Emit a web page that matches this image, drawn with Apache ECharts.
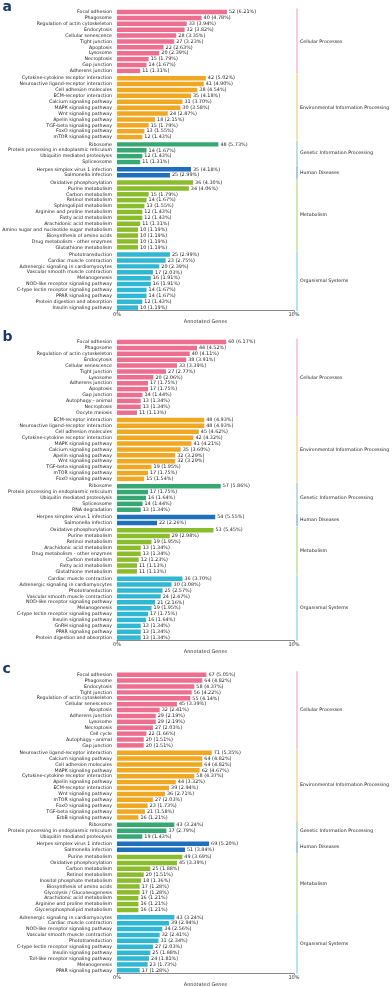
<!DOCTYPE html>
<html>
<head>
<meta charset="utf-8">
<script src="https://cdn.jsdelivr.net/npm/echarts@6/dist/echarts.min.js"></script>
<style>
html,body{margin:0;padding:0;background:#fff;}
#chart{width:392px;height:987px;}
</style>
</head>
<body>
<div id="chart"></div>
<script>
// ---------- DATA ----------
const groupNames = ["Cellular Processes","Environmental Information Processing","Genetic Information Processing","Human Diseases","Metabolism","Organismal Systems"];

const aGroupSizes = [11, 11, 4, 2, 12, 10];
const aPathways = [
  "Focal adhesion","Phagosome","Regulation of actin cytoskeleton","Endocytosis","Cellular senescence","Tight junction","Apoptosis","Lysosome","Necroptosis","Gap junction","Adherens junction",
  "Cytokine-cytokine receptor interaction","Neuroactive ligand-receptor interaction","Cell adhesion molecules","ECM-receptor interaction","Calcium signaling pathway","MAPK signaling pathway","Wnt signaling pathway","Apelin signaling pathway","TGF-beta signaling pathway","FoxO signaling pathway","mTOR signaling pathway",
  "Ribosome","Protein processing in endoplasmic reticulum","Ubiquitin mediated proteolysis","Spliceosome",
  "Herpes simplex virus 1 infection","Salmonella infection",
  "Oxidative phosphorylation","Purine metabolism","Carbon metabolism","Retinol metabolism","Sphingolipid metabolism","Arginine and proline metabolism","Fatty acid metabolism","Arachidonic acid metabolism","Amino sugar and nucleotide sugar metabolism","Biosynthesis of amino acids","Drug metabolism - other enzymes","Glutathione metabolism",
  "Phototransduction","Cardiac muscle contraction","Adrenergic signaling in cardiomyocytes","Vascular smooth muscle contraction","Melanogenesis","NOD-like receptor signaling pathway","C-type lectin receptor signaling pathway","PPAR signaling pathway","Protein digestion and absorption","Insulin signaling pathway"
];
const aGenes = [52,40,33,32,28,27,22,20,15,14,11, 42,41,38,35,31,30,24,18,15,13,12, 48,14,12,11, 35,25, 36,34,15,14,13,12,12,11,10,10,10,10, 25,23,20,17,16,16,14,14,12,10];
const aPercent = [6.21,4.78,3.94,3.82,3.35,3.23,2.63,2.39,1.79,1.67,1.31, 5.02,4.90,4.54,4.18,3.70,3.58,2.87,2.15,1.79,1.55,1.43, 5.73,1.67,1.43,1.31, 4.18,2.99, 4.30,4.06,1.79,1.67,1.55,1.43,1.43,1.31,1.19,1.19,1.19,1.19, 2.99,2.75,2.39,2.03,1.91,1.91,1.67,1.67,1.43,1.19];

const bGroupSizes = [13, 11, 5, 2, 8, 11];
const bPathways = [
  "Focal adhesion","Phagosome","Regulation of actin cytoskeleton","Endocytosis","Cellular senescence","Tight junction","Lysosome","Adherens junction","Apoptosis","Gap junction","Autophagy - animal","Necroptosis","Oocyte meiosis",
  "ECM-receptor interaction","Neuroactive ligand-receptor interaction","Cell adhesion molecules","Cytokine-cytokine receptor interaction","MAPK signaling pathway","Calcium signaling pathway","Apelin signaling pathway","Wnt signaling pathway","TGF-beta signaling pathway","mTOR signaling pathway","FoxO signaling pathway",
  "Ribosome","Protein processing in endoplasmic reticulum","Ubiquitin mediated proteolysis","Spliceosome","RNA degradation",
  "Herpes simplex virus 1 infection","Salmonella infection",
  "Oxidative phosphorylation","Purine metabolism","Retinol metabolism","Arachidonic acid metabolism","Drug metabolism - other enzymes","Carbon metabolism","Fatty acid metabolism","Glutathione metabolism",
  "Cardiac muscle contraction","Adrenergic signaling in cardiomyocytes","Phototransduction","Vascular smooth muscle contraction","NOD-like receptor signaling pathway","Melanogenesis","C-type lectin receptor signaling pathway","Insulin signaling pathway","GnRH signaling pathway","PPAR signaling pathway","Protein digestion and absorption"
];
const bGenes = [60,44,40,38,33,27,20,17,17,14,13,13,11, 48,48,45,42,41,35,32,32,19,17,15, 57,17,16,14,13, 54,22, 53,29,19,13,13,12,11,11, 36,30,25,24,21,19,17,16,13,13,13];
const bPercent = [6.17,4.52,4.11,3.91,3.39,2.77,2.06,1.75,1.75,1.44,1.34,1.34,1.13, 4.93,4.93,4.62,4.32,4.21,3.60,3.29,3.29,1.95,1.75,1.54, 5.86,1.75,1.64,1.44,1.34, 5.55,2.26, 5.45,2.98,1.95,1.34,1.34,1.23,1.13,1.13, 3.70,3.08,2.57,2.47,2.16,1.95,1.75,1.64,1.34,1.34,1.34];

const cGroupSizes = [13, 12, 3, 2, 10, 10];
const cPathways = [
  "Focal adhesion","Phagosome","Endocytosis","Tight junction","Regulation of actin cytoskeleton","Cellular senescence","Apoptosis","Adherens junction","Lysosome","Necroptosis","Cell cycle","Autophagy - animal","Gap junction",
  "Neuroactive ligand-receptor interaction","Calcium signaling pathway","Cell adhesion molecules","MAPK signaling pathway","Cytokine-cytokine receptor interaction","Apelin signaling pathway","ECM-receptor interaction","Wnt signaling pathway","mTOR signaling pathway","FoxO signaling pathway","TGF-beta signaling pathway","ErbB signaling pathway",
  "Ribosome","Protein processing in endoplasmic reticulum","Ubiquitin mediated proteolysis",
  "Herpes simplex virus 1 infection","Salmonella infection",
  "Purine metabolism","Oxidative phosphorylation","Carbon metabolism","Retinol metabolism","Inositol phosphate metabolism","Biosynthesis of amino acids","Glycolysis / Gluconeogenesis","Arachidonic acid metabolism","Arginine and proline metabolism","Glycerophospholipid metabolism",
  "Adrenergic signaling in cardiomyocytes","Cardiac muscle contraction","NOD-like receptor signaling pathway","Vascular smooth muscle contraction","Phototransduction","C-type lectin receptor signaling pathway","Insulin signaling pathway","Toll-like receptor signaling pathway","Melanogenesis","PPAR signaling pathway"
];
const cGenes = [67,64,58,56,55,45,32,29,29,27,22,20,20, 71,64,64,62,58,44,39,36,27,23,21,16, 43,37,19, 69,51, 49,45,25,20,18,17,17,16,16,16, 43,39,34,32,31,27,25,24,23,17];
const cPercent = [5.05,4.82,4.37,4.22,4.14,3.39,2.41,2.19,2.19,2.03,1.66,1.51,1.51, 5.35,4.82,4.82,4.67,4.37,3.32,2.94,2.71,2.03,1.73,1.58,1.21, 3.24,2.79,1.43, 5.20,3.84, 3.69,3.39,1.88,1.51,1.36,1.28,1.28,1.21,1.21,1.21, 3.24,2.94,2.56,2.41,2.34,2.03,1.88,1.81,1.73,1.28];

const panelLetters = ["a","b","c"];
const xTicks = [0, 10];

// ---------- STYLE / LAYOUT ----------
const groupColors = ["#EE6E8F","#F0A823","#35A874","#1F6FBF","#8BBC2B","#2FB7D4"];
const bracketColors = ["#F6BACA","#F7D58E","#A3D9BE","#8FB7DF","#C6DE95","#9ADBEA"];
const PITCH = 5.89, GAP = 1.4, LEFT = 117, RIGHT = 98;
const firstCenters = [12, 342, 674.7];
const letterY = [11.5, 341.8, 673.8];
const FONT = "DejaVu Sans";
const FS = 4.7;

const panels = [
  {sizes: aGroupSizes, names: aPathways, genes: aGenes, pct: aPercent},
  {sizes: bGroupSizes, names: bPathways, genes: bGenes, pct: bPercent},
  {sizes: cGroupSizes, names: cPathways, genes: cGenes, pct: cPercent}
];

const grid = [], xAxis = [], yAxis = [], series = [], graphic = [];

panels.forEach((p, pi) => {
  let rowStart = 0;
  p.sizes.forEach((n, gi) => {
    const idx = grid.length;
    const top = firstCenters[pi] - PITCH / 2 + rowStart * PITCH + gi * GAP;
    const names = p.names.slice(rowStart, rowStart + n);
    const genes = p.genes.slice(rowStart, rowStart + n);
    const pct = p.pct.slice(rowStart, rowStart + n);
    const isLast = gi === p.sizes.length - 1;
    grid.push({left: LEFT, right: RIGHT, top: top, height: n * PITCH, outerBoundsMode: 'none', containLabel: false});
    xAxis.push({
      type: 'value', gridIndex: idx, min: xTicks[0], max: xTicks[1], interval: xTicks[1] - xTicks[0],
      show: isLast,
      splitLine: {show: false},
      axisLine: {show: true, lineStyle: {color: '#8a8a8a', width: 1.2}},
      axisTick: {show: true, length: 2, lineStyle: {color: '#8a8a8a'}},
      axisLabel: {formatter: '{value}%', fontSize: 5, margin: 2, color: '#333', fontFamily: FONT},
      name: 'Annotated Genes', nameLocation: 'middle', nameGap: 8.5,
      nameTextStyle: {fontSize: 5, color: '#333', fontFamily: FONT}
    });
    yAxis.push({
      type: 'category', gridIndex: idx, data: names, inverse: true,
      axisLine: {show: false}, axisTick: {show: false}, splitLine: {show: false},
      axisLabel: {interval: 0, fontSize: FS, margin: 5, color: '#222', fontFamily: FONT, hideOverlap: false}
    });
    yAxis.push({
      type: 'category', gridIndex: idx, data: names, inverse: true, position: 'right', offset: 3,
      axisLine: {show: true, lineStyle: {color: bracketColors[gi], width: 1.5}},
      axisTick: {show: false}, axisLabel: {show: false}, splitLine: {show: false},
      name: groupNames[gi], nameLocation: 'middle', nameRotate: 0, nameGap: 3,
      nameTextStyle: {fontSize: FS, color: '#222', fontFamily: FONT, align: 'left', verticalAlign: 'middle'}
    });
    series.push({
      type: 'bar', xAxisIndex: idx, yAxisIndex: idx * 2, data: pct,
      barWidth: '76%', silent: true,
      itemStyle: {color: groupColors[gi]},
      label: {
        show: true, position: 'right', distance: 2, fontSize: 4.9, color: '#222', fontFamily: FONT,
        formatter: (prm) => genes[prm.dataIndex] + ' (' + pct[prm.dataIndex].toFixed(2) + '%)'
      }
    });
    rowStart += n;
  });
  graphic.push({
    type: 'text', left: 2.5, top: letterY[pi] - 11,
    style: {text: panelLetters[pi], fontSize: 14, fontWeight: 'bold', fontFamily: FONT, fill: '#1B3A6B'}
  });
});

const chart = echarts.init(document.getElementById('chart'), null, {renderer: 'canvas'});
chart.setOption({
  animation: false,
  backgroundColor: '#ffffff',
  grid: grid, xAxis: xAxis, yAxis: yAxis, series: series, graphic: graphic
});
</script>
</body>
</html>
